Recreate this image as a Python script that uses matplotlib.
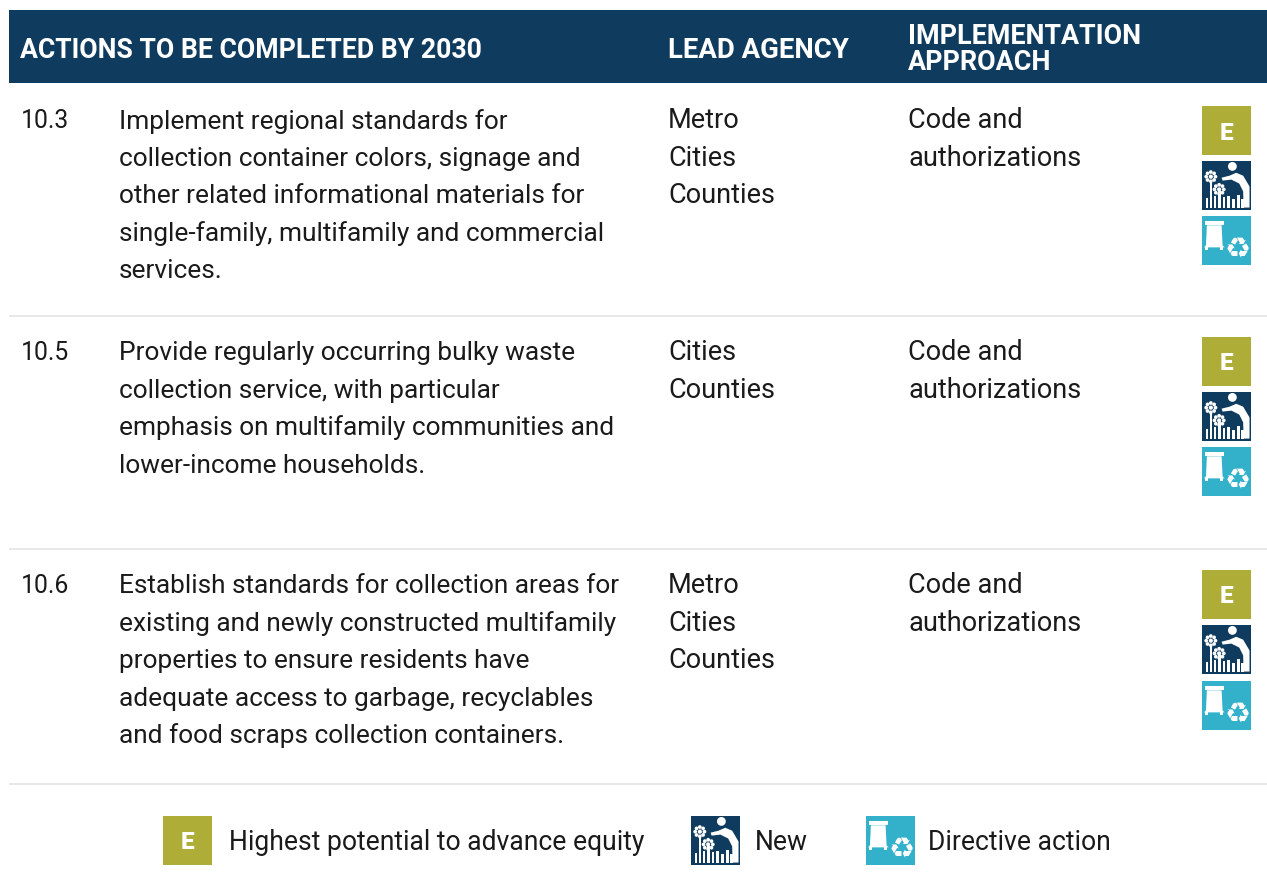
import math
import matplotlib
matplotlib.use('Agg')
import matplotlib.pyplot as plt
from matplotlib.patches import Rectangle, Circle, Polygon

plt.rcParams['font.family'] = ['Roboto', 'DejaVu Sans']

NAVY = '#0f3b5f'
OLIVE = '#adad37'
TEAL = '#33b1cb'
RULE = '#e8e8e8'
INK = '#1a1a1a'

header_labels = ['ACTIONS TO BE COMPLETED BY 2030', 'LEAD AGENCY', 'IMPLEMENTATION\nAPPROACH']
action_ids = ['10.3', '10.5', '10.6']
action_texts = [
    ['Implement regional standards for',
     'collection container colors, signage and',
     'other related informational materials for',
     'single-family, multifamily and commercial',
     'services.'],
    ['Provide regularly occurring bulky waste',
     'collection service, with particular',
     'emphasis on multifamily communities and',
     'lower-income households.'],
    ['Establish standards for collection areas for',
     'existing and newly constructed multifamily',
     'properties to ensure residents have',
     'adequate access to garbage, recyclables',
     'and food scraps collection containers.'],
]
lead_agencies = [
    ['Metro', 'Cities', 'Counties'],
    ['Cities', 'Counties'],
    ['Metro', 'Cities', 'Counties'],
]
approaches = [
    ['Code and', 'authorizations'],
    ['Code and', 'authorizations'],
    ['Code and', 'authorizations'],
]
legend_labels = ['Highest potential to advance equity', 'New', 'Directive action']

row_baselines = [127.5, 359.5, 592.5]
row_rules = [316, 549, 784]
icon_tops = [(106, 161, 216), (337, 392, 447), (570, 625, 681)]
LINE_STEP = 37.4
ID_SIZE = 17.8
ACTION_SIZE = 18.9
COLUMN_SIZE = 19.5
LEGEND_SIZE = 19.1


def icon_equity(ax, x, y, s=49):
    ax.add_patch(Rectangle((x, y), s, s, fc=OLIVE, ec='none'))
    ax.text(x + s / 2, y + s / 2 + 8, 'E', color='white', fontsize=17.5, fontweight='black',
            ha='center', va='baseline')


def flower(ax, cx, cy, r):
    for k in range(8):
        a = k * math.pi / 4
        ax.add_patch(Circle((cx + r * math.cos(a), cy + r * math.sin(a)), r * 0.4, fc='white', ec='none'))
    ax.add_patch(Circle((cx, cy), r * 0.45, fc='white', ec='none'))


def icon_new(ax, x, y, s=49):
    ax.add_patch(Rectangle((x, y), s, s, fc=NAVY, ec='none'))

    def pt(u, v):
        return (x + u * s, y + v * s)
    # stems along the ground
    bars = [(0.08, 0.76), (0.16, 0.38), (0.24, 0.72), (0.33, 0.62), (0.42, 0.74),
            (0.52, 0.72), (0.62, 0.78), (0.72, 0.7), (0.80, 0.78)]
    for u, v in bars:
        ax.add_patch(Rectangle(pt(u, v), 0.05 * s, (0.95 - v) * s, fc='white', ec='none'))
    # gardener
    hx, hy = pt(0.62, 0.11)
    ax.add_patch(Circle((hx, hy), 0.09 * s, fc='white', ec='none'))
    body = [(0.4, 0.34), (0.42, 0.4), (0.6, 0.38), (0.76, 0.46), (0.84, 0.62), (0.85, 0.95),
            (0.97, 0.95), (0.97, 0.52), (0.84, 0.3), (0.7, 0.24), (0.56, 0.3)]
    ax.add_patch(Polygon([pt(u, v) for u, v in body], fc='white', ec='none'))
    # flowers
    flower(ax, *pt(0.18, 0.32), 0.095 * s)
    flower(ax, *pt(0.35, 0.58), 0.095 * s)


def icon_directive(ax, x, y, s=49):
    ax.add_patch(Rectangle((x, y), s, s, fc=TEAL, ec='none'))

    def pt(u, v):
        return (x + u * s, y + v * s)
    # bin lid, body and wheels
    ax.add_patch(Rectangle(pt(0.06, 0.1), 0.38 * s, 0.09 * s, fc='white', ec='none'))
    cart = [(0.1, 0.19), (0.4, 0.19), (0.42, 0.6), (0.46, 0.64), (0.04, 0.64), (0.08, 0.6)]
    ax.add_patch(Polygon([pt(u, v) for u, v in cart], fc='white', ec='none'))
    ax.add_patch(Rectangle(pt(0.07, 0.62), 0.06 * s, 0.08 * s, fc='white', ec='none'))
    ax.add_patch(Rectangle(pt(0.36, 0.62), 0.06 * s, 0.08 * s, fc='white', ec='none'))
    cx, cy = pt(0.72, 0.69)
    ax.text(cx, cy, '\u267b', color='white', fontsize=21, family='DejaVu Sans',
            ha='center', va='center')


fig = plt.figure(figsize=(12.67, 8.79), dpi=100)
ax = fig.add_axes([0, 0, 1, 1])
ax.set_xlim(0, 1267)
ax.set_ylim(878, -1)
ax.axis('off')

# header band
ax.add_patch(Rectangle((9, 10), 1258, 73, fc=NAVY, ec='none'))
ax.text(20, 56.5, header_labels[0], color='white', fontsize=19.2, fontweight='bold', va='baseline')
ax.text(668, 56.5, header_labels[1], color='white', fontsize=19.8, fontweight='bold', va='baseline')
impl_top, impl_bottom = header_labels[2].split('\n')
ax.text(908, 43.5, impl_top, color='white', fontsize=19.4, fontweight='bold', va='baseline')
ax.text(908, 69.5, impl_bottom, color='white', fontsize=19.4, fontweight='bold', va='baseline')

# table rows
for i, base in enumerate(row_baselines):
    ax.text(21, base, action_ids[i], color=INK, fontsize=ID_SIZE, va='baseline')
    for j, line in enumerate(action_texts[i]):
        ax.text(119, base + j * LINE_STEP, line, color=INK, fontsize=ACTION_SIZE, va='baseline')
    for j, line in enumerate(lead_agencies[i]):
        ax.text(668, base + j * LINE_STEP, line, color=INK, fontsize=COLUMN_SIZE, va='baseline')
    for j, line in enumerate(approaches[i]):
        ax.text(908, base + j * LINE_STEP, line, color=INK, fontsize=COLUMN_SIZE, va='baseline')
    ax.plot([9, 1267], [row_rules[i], row_rules[i]], color=RULE, lw=1.4, solid_capstyle='butt')
    top_e, top_n, top_d = icon_tops[i]
    icon_equity(ax, 1202, top_e)
    icon_new(ax, 1202, top_n)
    icon_directive(ax, 1202, top_d)

# legend
icon_equity(ax, 163, 816)
ax.text(229, 849.5, legend_labels[0], color=INK, fontsize=LEGEND_SIZE, va='baseline')
icon_new(ax, 691, 816)
ax.text(755, 849.5, legend_labels[1], color=INK, fontsize=LEGEND_SIZE, va='baseline')
icon_directive(ax, 866, 816)
ax.text(928, 849.5, legend_labels[2], color=INK, fontsize=LEGEND_SIZE, va='baseline')

fig.savefig('out.png', dpi=100)
plt.close(fig)
